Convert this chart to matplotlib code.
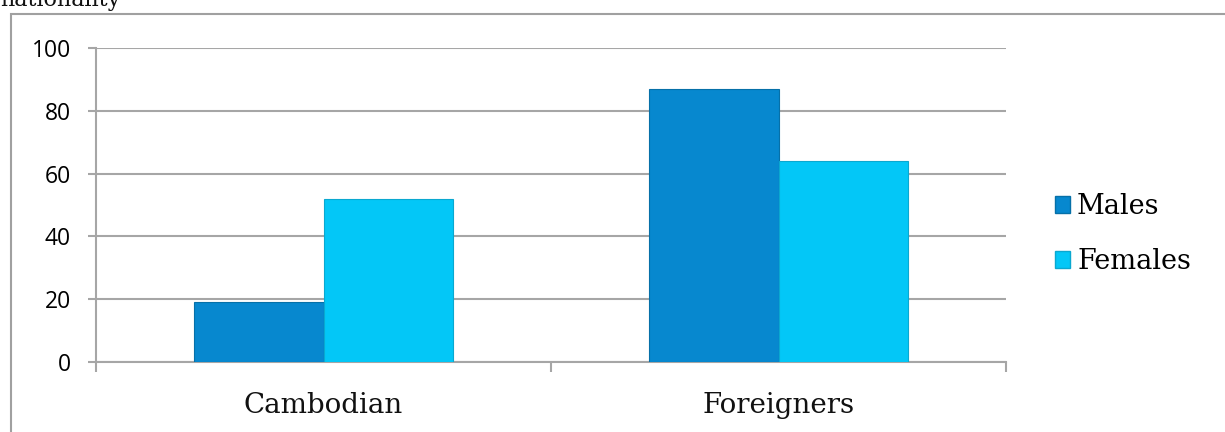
import matplotlib
matplotlib.use("Agg")
import matplotlib.pyplot as plt
from matplotlib.patches import Rectangle, Patch
import numpy as np

categories = ["Cambodian", "Foreigners"]
males = [19, 87]
females = [52, 64]
series_names = ["Males", "Females"]
yticks = [0, 20, 40, 60, 80, 100]

c_male = "#0788cf"
c_female = "#03c7f7"
grid_c = "#a6a6a6"

fig = plt.figure(figsize=(12.25, 4.32), dpi=100)
W, H = 1225, 432

# outer border
fig.patches.append(Rectangle((11 / W, -0.1), 1.2, 1 - 14 / H + 0.1, transform=fig.transFigure,
                             fill=False, edgecolor="#a0a0a0", linewidth=1.5))
# title, partly cut off at the top edge as in the reference
fig.text(0 / W, 1 - 6 / H, "nationality", family="DejaVu Serif", fontsize=16,
         va="baseline", ha="left", color="#111111")

ax = fig.add_axes([96 / W, 1 - 362 / H, (1006 - 96) / W, (362 - 48) / H])
x = np.arange(len(categories))
bw = 0.285
ax.bar(x - bw / 2, males, bw, color=c_male, edgecolor="#0670a8", linewidth=0.8, zorder=3)
ax.bar(x + bw / 2, females, bw, color=c_female, edgecolor="#0aa8d0", linewidth=0.8, zorder=3)

ax.set_xlim(-0.5, len(categories) - 0.5)
ax.set_ylim(0, 100)
ax.set_yticks(yticks)
ax.set_yticklabels([str(v) for v in yticks], family="Open Sans", fontsize=16.5)
ax.yaxis.grid(True, color=grid_c, linewidth=1.5, zorder=0)
ax.set_axisbelow(True)
for s in ["top", "right"]:
    ax.spines[s].set_visible(False)
for s in ["left", "bottom"]:
    ax.spines[s].set_color(grid_c)
    ax.spines[s].set_linewidth(1.5)
ax.tick_params(axis="y", length=6, width=1.5, color=grid_c, pad=12)
ax.set_xticks([-0.5, 0.5, 1.5])
ax.set_xticklabels([])
ax.tick_params(axis="x", length=7, width=1.5, color=grid_c)
for i, c in enumerate(categories):
    ax.text(x[i], -0.095, c, transform=ax.get_xaxis_transform(), ha="center", va="top",
            family="DejaVu Serif", fontsize=20, color="#111111")

handles = [Patch(facecolor=c_male, edgecolor="#0670a8"), Patch(facecolor=c_female, edgecolor="#0aa8d0")]
fig.legend(handles, series_names, loc="center left", bbox_to_anchor=(1041 / W, 1 - 234 / H),
           frameon=False, prop={"family": "DejaVu Serif", "size": 19.5}, borderpad=0,
           handlelength=0.58, handleheight=0.58, handletextpad=0.25, labelspacing=1.05)

fig.savefig("out.png", dpi=100)
